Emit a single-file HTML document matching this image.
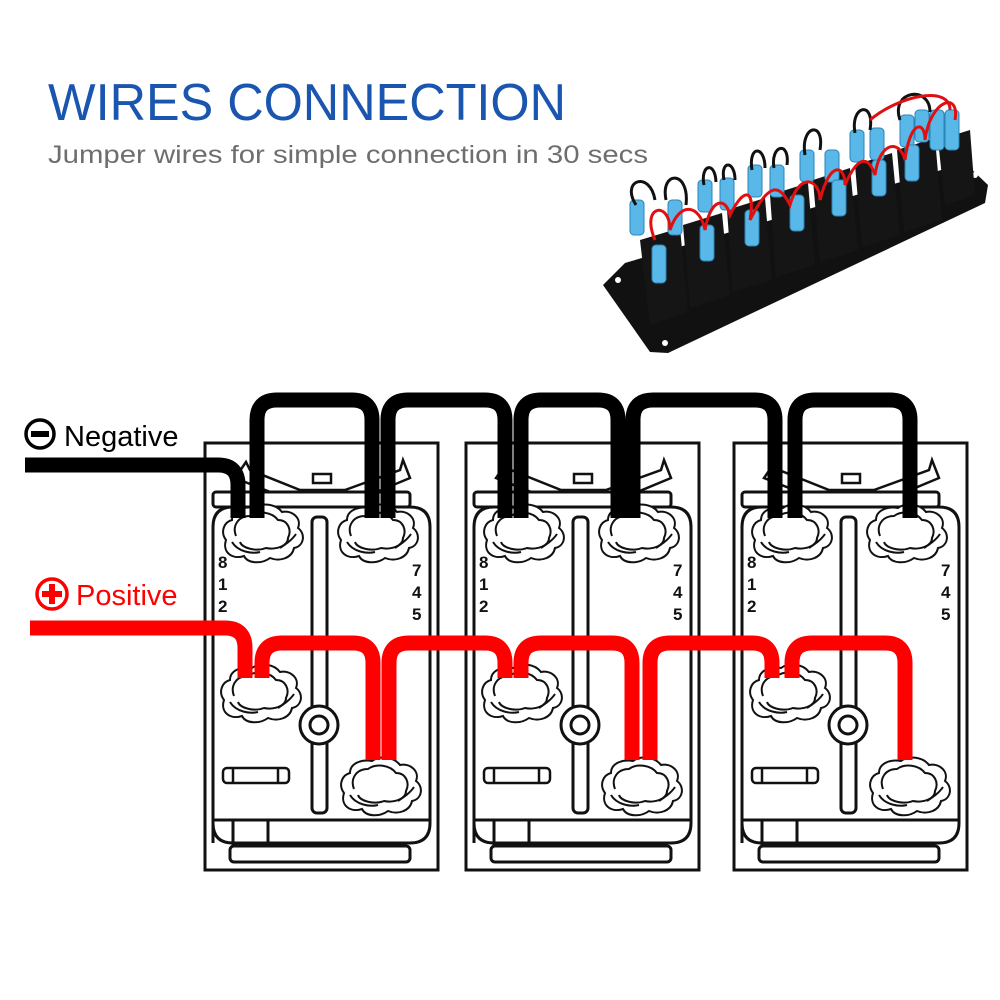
<!DOCTYPE html>
<html><head><meta charset="utf-8"><style>
html,body{margin:0;padding:0;background:#fff;}
svg{display:block;}
</style></head><body>
<svg width="1000" height="1000" viewBox="0 0 1000 1000" xmlns="http://www.w3.org/2000/svg">
<defs>
<g id="knob" fill="#fff" stroke="#111" stroke-width="2">
  <path d="M-36,8 C-42,0 -38,-10 -30,-12 C-30,-22 -18,-26 -8,-24 C0,-30 14,-28 20,-20 C30,-22 40,-14 36,-4 C44,2 42,14 32,16 C30,26 18,30 8,26 C0,32 -14,32 -18,24 C-30,28 -40,20 -36,8 Z"/>
  <path d="M-26,4 C-30,-6 -24,-16 -12,-16 C-4,-22 10,-20 16,-12 C26,-12 30,-2 26,6 C26,14 14,18 4,16 C-6,20 -20,16 -22,10" fill="none"/>
  <path d="M-30,10 C-24,20 -10,22 -2,20 M18,16 C24,12 30,8 34,2" fill="none"/>
</g>
<g id="sw" fill="none" stroke="#111">
  <rect x="205" y="443" width="233" height="427" stroke-width="3" fill="#fff"/>
  <path d="M246,462 L235,478 L298,503 L350,503 L410,478 L403,460 L400,470 L345,490 L300,490 L250,470 Z" stroke-width="2.5" fill="#fff"/>
  <rect x="313" y="474" width="18" height="9" stroke-width="2.5" fill="#fff"/>
  <rect x="213" y="492" width="197" height="15" rx="3" stroke-width="3" fill="#fff"/>
  <path d="M213,843 V527 Q213,507 233,507 H410 Q430,507 430,527 V823 Q430,843 410,843 H233 Q213,843 213,823" stroke-width="3" fill="#fff"/>
  <line x1="213" y1="820" x2="430" y2="820" stroke-width="3"/>
  <line x1="233" y1="820" x2="233" y2="845" stroke-width="3"/>
  <line x1="268" y1="820" x2="268" y2="845" stroke-width="3"/>
  <rect x="230" y="846" width="180" height="16" rx="4" stroke-width="3" fill="#fff"/>
  <rect x="312" y="517" width="15" height="296" rx="5" stroke-width="3" fill="#fff"/>
  <circle cx="319" cy="725" r="19" stroke-width="3" fill="#fff"/>
  <circle cx="319" cy="725" r="9" stroke-width="3"/>
  <rect x="223" y="768" width="66" height="15" rx="4" stroke-width="2.5"/>
  <line x1="233" y1="768" x2="233" y2="783" stroke-width="2.5"/>
  <line x1="278" y1="768" x2="278" y2="783" stroke-width="2.5"/>
  <use href="#knob" x="262" y="532"/>
  <use href="#knob" x="377" y="532"/>
  <use href="#knob" x="260" y="692"/>
  <use href="#knob" x="380" y="785"/>
  <g font-family="Liberation Sans, sans-serif" font-weight="bold" font-size="17" fill="#111" stroke="none">
    <text x="218" y="568">8</text><text x="218" y="590">1</text><text x="218" y="612">2</text>
    <text x="412" y="576">7</text><text x="412" y="598">4</text><text x="412" y="620">5</text>
  </g>
</g>
</defs>

<text x="48" y="120" font-family="Liberation Sans, sans-serif" font-size="52" fill="#1a56b0" textLength="518" lengthAdjust="spacingAndGlyphs">WIRES CONNECTION</text>
<text x="48" y="163" font-family="Liberation Sans, sans-serif" font-size="25" fill="#6e6e6e" textLength="600" lengthAdjust="spacingAndGlyphs">Jumper wires for simple connection in 30 secs</text>

<!-- product photo approximation -->
<g>
  <polygon points="603,285 625,263 965,163 988,185 985,203 668,353 650,352" fill="#111"/>
  <circle cx="618" cy="280" r="3" fill="#fff"/><circle cx="665" cy="343" r="3" fill="#fff"/><circle cx="975" cy="175" r="3" fill="#fff"/>
</g>
<g>
  <g fill="#151515">
    <polygon points="640,240 680,228 688,312 650,325"/>
    <polygon points="683,225 722,213 730,295 690,308"/>
    <polygon points="727,210 765,198 772,280 733,292"/>
    <polygon points="770,195 808,183 815,265 776,277"/>
    <polygon points="813,180 850,168 858,250 820,262"/>
    <polygon points="855,165 892,153 900,235 862,247"/>
    <polygon points="897,150 935,138 942,220 904,232"/>
    <polygon points="938,140 970,130 975,195 945,205"/>
  </g>
  <g fill="#5ab8e8" stroke="#2a84b8" stroke-width="1">
    <rect x="652" y="245" width="14" height="38" rx="4"/><rect x="630" y="200" width="14" height="35" rx="4"/><rect x="668" y="200" width="14" height="35" rx="4"/>
    <rect x="700" y="225" width="14" height="36" rx="4"/><rect x="698" y="180" width="14" height="32" rx="4"/><rect x="720" y="178" width="14" height="32" rx="4"/>
    <rect x="745" y="210" width="14" height="36" rx="4"/><rect x="748" y="165" width="14" height="32" rx="4"/><rect x="770" y="165" width="14" height="32" rx="4"/>
    <rect x="790" y="195" width="14" height="36" rx="4"/><rect x="800" y="150" width="14" height="32" rx="4"/><rect x="825" y="150" width="14" height="32" rx="4"/>
    <rect x="832" y="180" width="14" height="36" rx="4"/><rect x="850" y="130" width="14" height="32" rx="4"/><rect x="870" y="128" width="14" height="32" rx="4"/>
    <rect x="872" y="160" width="14" height="36" rx="4"/><rect x="900" y="115" width="14" height="32" rx="4"/><rect x="915" y="110" width="14" height="32" rx="4"/>
    <rect x="905" y="145" width="14" height="36" rx="4"/><rect x="930" y="110" width="14" height="40" rx="4"/><rect x="945" y="110" width="14" height="40" rx="4"/>
  </g>
  <g fill="none" stroke="#111" stroke-width="3">
    <path d="M636,205 C620,180 650,170 655,200 M666,200 C660,170 690,170 686,205 M704,185 C700,165 715,160 716,182 M724,180 C720,160 735,160 735,180 M752,170 C748,145 765,145 765,168 M774,168 C770,145 790,140 787,165 M805,155 C800,125 825,120 820,150 M855,133 C850,105 875,100 870,130 M900,120 C890,90 930,85 930,112"/>
  </g>
  <g fill="none" stroke="#e01010" stroke-width="3">
    <path d="M655,240 C640,205 670,200 670,230 C680,200 700,205 705,230 C710,200 725,195 730,215 C745,185 755,190 750,220 C770,180 780,185 790,205 C800,170 820,180 820,200 C830,160 845,165 845,185 C860,150 870,160 875,175 C880,140 900,140 905,160 C910,120 925,120 925,140 C930,100 960,90 955,120"/>
    <path d="M870,120 C900,95 950,85 950,110"/>
  </g>
</g>

<!-- switches -->
<use href="#sw" x="0"/>
<use href="#sw" x="261"/>
<use href="#sw" x="529"/>

<!-- black wires -->
<g fill="none" stroke="#000" stroke-width="15" stroke-linejoin="round">
  <path d="M25,465 H218 Q238,465 238,485 V518"/>
  <path d="M257,518 V420 Q257,400 277,400 H352 Q372,400 372,420 V518"/>
  <path d="M388,518 V420 Q388,400 408,400 H485 Q505,400 505,420 V518"/>
  <path d="M521,518 V420 Q521,400 541,400 H598 Q618,400 618,420 V518"/>
  <path d="M633,518 V420 Q633,400 653,400 H755 Q775,400 775,420 V518"/>
  <path d="M795,518 V420 Q795,400 815,400 H890 Q910,400 910,420 V518"/>
</g>
<!-- red wires -->
<g fill="none" stroke="#ff0000" stroke-width="15" stroke-linejoin="round">
  <path d="M30,628 H225 Q245,628 245,648 V678"/>
  <path d="M262,678 V663 Q262,643 282,643 H353 Q373,643 373,663 V760"/>
  <path d="M389,760 V663 Q389,643 409,643 H485 Q505,643 505,663 V678"/>
  <path d="M521,678 V663 Q521,643 541,643 H612 Q632,643 632,663 V760"/>
  <path d="M650,760 V663 Q650,643 670,643 H752 Q772,643 772,663 V678"/>
  <path d="M792,678 V663 Q792,643 812,643 H885 Q905,643 905,663 V760"/>
</g>

<!-- labels -->
<circle cx="40" cy="434" r="14" fill="#fff" stroke="#000" stroke-width="3.5"/>
<rect x="31" y="431" width="18" height="6" fill="#000"/>
<text x="64" y="446" font-family="Liberation Sans, sans-serif" font-size="29" fill="#000">Negative</text>
<circle cx="52" cy="594" r="15" fill="#fff" stroke="#ff0000" stroke-width="3.5"/>
<rect x="42" y="591" width="20" height="6" fill="#ff0000"/>
<rect x="49" y="584" width="6" height="20" fill="#ff0000"/>
<text x="76" y="605" font-family="Liberation Sans, sans-serif" font-size="29" fill="#ff0000">Positive</text>
</svg>
</body></html>
